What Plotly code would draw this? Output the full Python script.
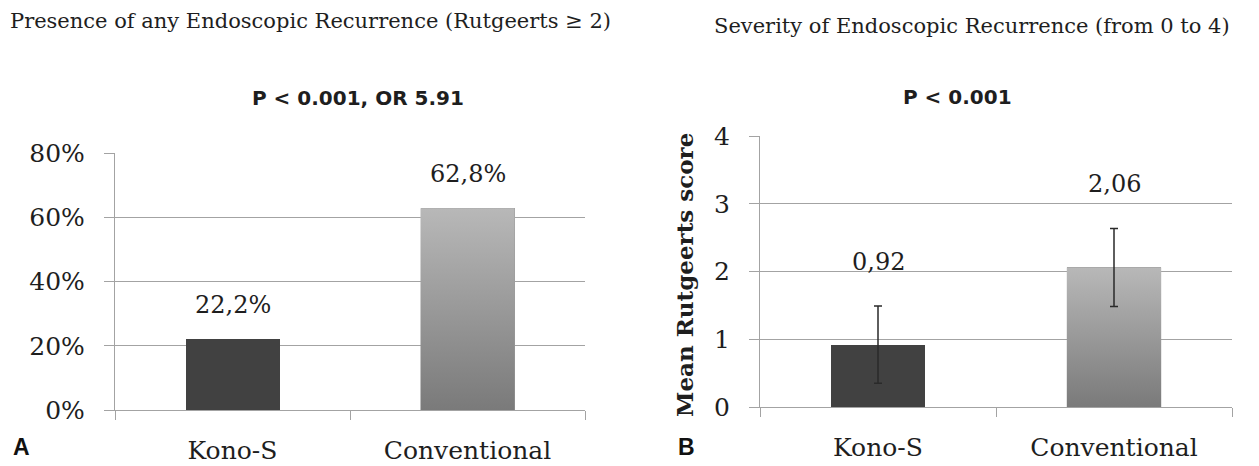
import plotly.graph_objects as go

# ---- data ----
groups = ["Kono-S", "Conventional"]
recurrence_pct = [22.2, 62.8]          # any endoscopic recurrence, %
rutgeerts_mean = [0.92, 2.06]          # mean Rutgeerts score
rutgeerts_sd = [0.57, 0.575]           # error bar half-length

title_a = "Presence of any Endoscopic Recurrence (Rutgeerts \u2265 2)"
title_b = "Severity of Endoscopic Recurrence (from 0 to 4)"
stat_a = "P < 0.001, OR 5.91"
stat_b = "P < 0.001"
ylabel_b = "Mean Rutgeerts score"

W, H = 1259, 466
BAR_W = 0.4
DARK = "#414141"
GRAD = [[0, "#7a7a7a"], [1, "#b8b8b8"]]
GRID = "#a3a3a3"
TXT = "#1e1e1e"
SERIF = "DejaVu Serif"

xpos = list(range(len(groups)))


def px_x(p):
    return p / W


def px_y(p):
    return (H - p) / H


fig = go.Figure()


def add_panel(vals, xa, ya, err=None):
    # solid bars from the values
    fig.add_trace(go.Bar(
        x=xpos, y=vals, width=BAR_W, xaxis=xa, yaxis=ya,
        marker=dict(color=[DARK, "#9a9a9a"], line=dict(width=0)),
        showlegend=False, hoverinfo="skip",
    ))
    # vertical shading on the second bar, built from its value
    i = 1
    v = vals[i]
    h = BAR_W / 2
    fig.add_trace(go.Scatter(
        x=[i - h, i + h, i + h, i - h, i - h], y=[0, 0, v, v, 0],
        xaxis=xa, yaxis=ya, mode="lines", line=dict(width=0),
        fill="toself", fillgradient=dict(type="vertical", colorscale=GRAD),
        showlegend=False, hoverinfo="skip",
    ))
    if err is not None:
        fig.add_trace(go.Scatter(
            x=xpos, y=vals, xaxis=xa, yaxis=ya, mode="markers",
            marker=dict(size=1, opacity=0),
            error_y=dict(type="data", array=err, color="#2a2a2a",
                         thickness=1.5, width=4),
            showlegend=False, hoverinfo="skip",
        ))


add_panel(recurrence_pct, "x", "y")
add_panel(rutgeerts_mean, "x2", "y2", rutgeerts_sd)

xaxis_common = dict(
    range=[-0.5, 1.5], tickmode="array", tickvals=xpos, ticktext=groups,
    ticks="", showgrid=False, zeroline=False, automargin=False,
    showline=True, linecolor=GRID, linewidth=1.3,
    tickfont=dict(family=SERIF, size=25, color=TXT),
    ticklabelstandoff=18,
    minor=dict(tickmode="array", tickvals=[-0.5, 0.5, 1.5], ticks="outside",
               ticklen=9, tickcolor=GRID, tickwidth=1.3, showgrid=False),
)
yaxis_common = dict(
    showgrid=True, gridcolor=GRID, gridwidth=1.3, zeroline=False,
    automargin=False,
    showline=True, linecolor=GRID, linewidth=1.3,
    ticks="outside", ticklen=10, tickcolor=GRID, tickwidth=1.3,
    tickfont=dict(family=SERIF, size=25, color=TXT),
    ticklabelstandoff=14,
)

fig.update_layout(
    width=W, height=H, margin=dict(l=0, r=0, t=0, b=0, autoexpand=False),
    paper_bgcolor="white", plot_bgcolor="white",
    bargap=0,
    xaxis=dict(domain=[px_x(115), px_x(585)], anchor="y", **xaxis_common),
    yaxis=dict(domain=[px_y(410), px_y(153)], anchor="x", range=[0, 80],
               dtick=20, ticksuffix="%", **yaxis_common),
    xaxis2=dict(domain=[px_x(760), px_x(1232)], anchor="y2", **xaxis_common),
    yaxis2=dict(domain=[px_y(407), px_y(136)], anchor="x2", range=[0, 4],
                dtick=1, **yaxis_common),
)

ann = []
# value labels above the bars
for i, v in enumerate(recurrence_pct):
    ann.append(dict(x=i, y=v, xref="x", yref="y", yanchor="bottom",
                    yshift=18, showarrow=False,
                    text=f"{v:.1f}".replace(".", ",") + "%",
                    font=dict(family=SERIF, size=24, color=TXT)))
for i, (v, e) in enumerate(zip(rutgeerts_mean, rutgeerts_sd)):
    ann.append(dict(x=i, y=v + e, xref="x2", yref="y2", yanchor="bottom",
                    yshift=28, showarrow=False,
                    text=f"{v:.2f}".replace(".", ","),
                    font=dict(family=SERIF, size=24, color=TXT)))

# panel headings
ann.append(dict(x=px_x(8), y=px_y(21), xref="paper", yref="paper",
                xanchor="left", yanchor="middle", showarrow=False, text=title_a,
                font=dict(family=SERIF, size=21, color=TXT)))
ann.append(dict(x=px_x(712), y=px_y(26), xref="paper", yref="paper",
                xanchor="left", yanchor="middle", showarrow=False, text=title_b,
                font=dict(family=SERIF, size=21, color=TXT)))
ann.append(dict(x=px_x(358), y=px_y(98), xref="paper", yref="paper",
                xanchor="center", yanchor="middle", showarrow=False,
                text=f"<b>{stat_a}</b>",
                font=dict(family="DejaVu Sans", size=20, color=TXT)))
ann.append(dict(x=px_x(957), y=px_y(97), xref="paper", yref="paper",
                xanchor="center", yanchor="middle", showarrow=False,
                text=f"<b>{stat_b}</b>",
                font=dict(family="DejaVu Sans", size=20, color=TXT)))
# y-axis title of panel B
ann.append(dict(x=px_x(684), y=px_y(275), xref="paper", yref="paper",
                xanchor="center", yanchor="middle", showarrow=False,
                textangle=-90, text=f"<b>{ylabel_b}</b>",
                font=dict(family=SERIF, size=23, color=TXT)))
# panel letters
ann.append(dict(x=px_x(11), y=px_y(447), xref="paper", yref="paper",
                xanchor="left", yanchor="middle", showarrow=False,
                text="<b>A</b>",
                font=dict(family="Liberation Sans", size=23, color="#111")))
ann.append(dict(x=px_x(676), y=px_y(447), xref="paper", yref="paper",
                xanchor="left", yanchor="middle", showarrow=False,
                text="<b>B</b>",
                font=dict(family="Liberation Sans", size=23, color="#111")))

fig.update_layout(annotations=ann)

fig.write_html("out.html")
